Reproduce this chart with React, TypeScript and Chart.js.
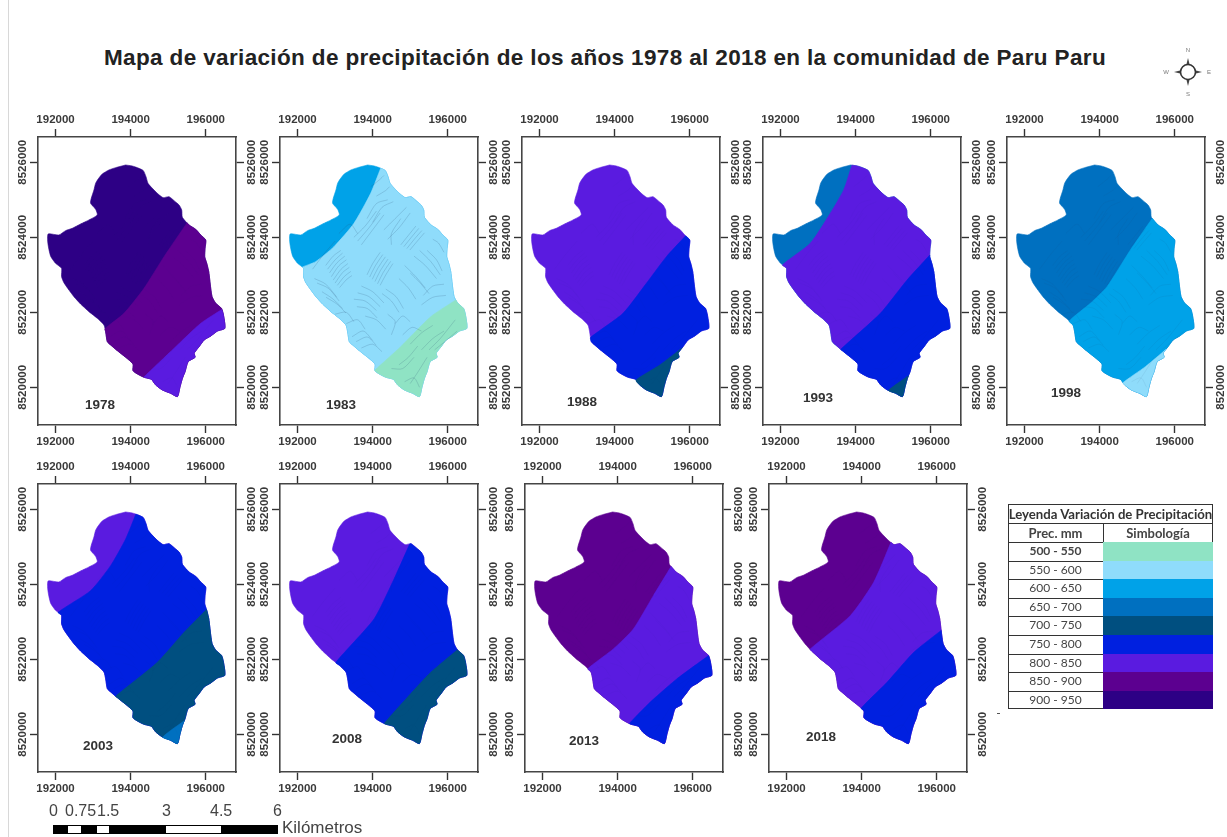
import React, { useEffect, useRef } from "react";
import { Chart, registerables } from "chart.js";

Chart.register(...registerables);

const TITLE = "Mapa de variación de precipitación de los años 1978 al 2018 en la comunidad de Paru Paru";

const eastingTicks = [192000, 194000, 196000];
const northingTicks = [8520000, 8522000, 8524000, 8526000];

const legendRanges = ["500 - 550", "550 - 600", "600 - 650", "650 - 700", "700 - 750", "750 - 800", "800 - 850", "850 - 900", "900 - 950"];
const legendColors = ["#8fe3c4", "#8fdcfb", "#00a2e8", "#0070c0", "#004f80", "#0020e0", "#5a1be0", "#5c0090", "#2d0085"];

const outlineX = [193867, 194044, 194222, 194338, 194409, 194462, 194578, 194711, 194862, 195022, 195156, 195289, 195360, 195378, 195556, 195733, 195867, 196000, 195982, 195973, 196027, 196080, 196107, 196133, 196169, 196267, 196418, 196471, 196507, 196311, 196133, 195956, 195822, 195689, 195716, 195529, 195449, 195378, 195316, 195244, 195067, 194844, 194667, 194551, 194356, 194178, 194062, 194062, 193867, 193644, 193467, 193378, 193333, 193289, 193111, 192889, 192667, 192489, 192356, 192222, 192160, 192160, 192000, 191867, 191796, 191804, 192089, 192267, 192444, 192667, 192889, 193111, 193067, 192933, 192951, 193022, 193067, 193129, 193244, 193422, 193600];
const outlineY = [8525929, 8525902, 8525840, 8525778, 8525618, 8525440, 8525307, 8525173, 8525058, 8525084, 8524978, 8524862, 8524729, 8524533, 8524329, 8524213, 8524062, 8523929, 8523707, 8523484, 8523307, 8523084, 8522862, 8522640, 8522418, 8522240, 8522107, 8521929, 8521573, 8521502, 8521369, 8521262, 8521084, 8520907, 8520800, 8520684, 8520418, 8520240, 8520018, 8519751, 8519840, 8519929, 8520062, 8520213, 8520267, 8520356, 8520444, 8520622, 8520800, 8520978, 8521129, 8521218, 8521484, 8521662, 8521840, 8522018, 8522222, 8522418, 8522596, 8522791, 8522951, 8523173, 8523307, 8523502, 8523840, 8524089, 8524062, 8524178, 8524240, 8524356, 8524462, 8524596, 8524747, 8524907, 8525040, 8525262, 8525440, 8525547, 8525689, 8525796, 8525858];

const years = [1978, 1983, 1988, 1993, 1998, 2003, 2008, 2013, 2018];

const bands1978 = ["900 - 950", "850 - 900", "800 - 850"];
const splits1978 = [
  { x: [195404, 194889, 194356, 193822, 193360], y: [8524302, 8523484, 8522640, 8521973, 8521573] },
  { x: [196444, 195867, 195156, 194356], y: [8522080, 8521707, 8521040, 8520284] },
];
const bands1983 = ["600 - 650", "550 - 600", "500 - 550"];
const splits1983 = [
  { x: [194213, 193947, 193502, 192969, 192480, 192151], y: [8525840, 8525173, 8524373, 8523751, 8523351, 8523236] },
  { x: [196213, 195547, 194747, 194053], y: [8522329, 8521884, 8521084, 8520462] },
];
const bands1988 = ["800 - 850", "750 - 800", "700 - 750"];
const splits1988 = [
  { x: [195867, 195378, 194844, 194222, 193378], y: [8524018, 8523484, 8522773, 8521973, 8521333] },
  { x: [195822, 195200, 194596], y: [8521040, 8520595, 8520213] },
];
const bands1993 = ["650 - 700", "800 - 850", "750 - 800", "700 - 750"];
const splits1993 = [
  { x: [193900, 193680, 193324, 192791, 192124], y: [8525925, 8525262, 8524640, 8523840, 8523351] },
  { x: [195947, 195369, 194658, 193680], y: [8523529, 8522862, 8521973, 8521102] },
  { x: [195351, 194880], y: [8520329, 8519929] },
];
const bands1998 = ["650 - 700", "600 - 650", "550 - 600"];
const splits1998 = [
  { x: [195351, 194818, 194196, 193751, 193200], y: [8524462, 8523662, 8522684, 8522240, 8521778] },
  { x: [195796, 195218, 194622], y: [8520996, 8520551, 8520124] },
];
const bands2003 = ["800 - 850", "750 - 800", "700 - 750", "650 - 700"];
const splits2003 = [
  { x: [194133, 193867, 193467, 192933, 192178], y: [8525858, 8525209, 8524498, 8523831, 8523387] },
  { x: [196062, 195422, 194711, 193689], y: [8523342, 8522720, 8521920, 8521120] },
  { x: [195422, 194889], y: [8520364, 8520009] },
];
const bands2008 = ["800 - 850", "750 - 800", "700 - 750"];
const splits2008 = [
  { x: [194996, 194569, 194036, 193058], y: [8525031, 8524142, 8523075, 8521964] },
  { x: [196213, 195547, 194925, 194347], y: [8522231, 8521653, 8520987, 8520364] },
];
const bands2013 = ["850 - 900", "800 - 850", "750 - 800"];
const splits2013 = [
  { x: [195396, 194951, 194418, 193884, 193244], y: [8524453, 8523698, 8522809, 8522276, 8521787] },
  { x: [196418, 195573, 194862, 194329], y: [8522098, 8521475, 8520853, 8520320] },
];
const bands2018 = ["850 - 900", "800 - 850", "750 - 800"];
const splits2018 = [
  { x: [194747, 194320, 193698, 192631], y: [8525076, 8524053, 8523164, 8522276] },
  { x: [196053, 195387, 194676, 194009], y: [8522764, 8522187, 8521387, 8520720] },
];

// contour strokes as x,y,x,y,... read roughly from the 1983 map
const contourLines = [
  [192750, 8523250, 192950, 8523500, 193150, 8523650],
  [192800, 8523150, 193000, 8523400, 193200, 8523580],
  [192850, 8523050, 193050, 8523320, 193260, 8523500],
  [192900, 8522950, 193100, 8523240, 193300, 8523400],
  [192950, 8522860, 193160, 8523150, 193340, 8523300],
  [193000, 8522780, 193200, 8523060, 193380, 8523200],
  [193060, 8522720, 193250, 8522960, 193420, 8523090],
  [193120, 8522660, 193300, 8522870, 193450, 8522980],
  [193850, 8523000, 194000, 8523300, 194200, 8523600],
  [193920, 8522940, 194070, 8523240, 194270, 8523540],
  [193990, 8522880, 194140, 8523180, 194340, 8523480],
  [194060, 8522820, 194210, 8523120, 194410, 8523420],
  [194130, 8522760, 194280, 8523060, 194480, 8523360],
  [194200, 8522720, 194350, 8523000, 194540, 8523300],
  [194750, 8523800, 194950, 8524050, 195150, 8524300],
  [194830, 8523750, 195030, 8524000, 195230, 8524240],
  [194910, 8523700, 195110, 8523950, 195310, 8524180],
  [194990, 8523660, 195190, 8523900, 195380, 8524120],
  [192450, 8522900, 192750, 8522750, 193050, 8522400],
  [192520, 8522780, 192820, 8522640, 193110, 8522300],
  [192650, 8522550, 192950, 8522350, 193200, 8522100],
  [192760, 8522400, 193050, 8522220, 193290, 8521980],
  [193000, 8521950, 193300, 8522000, 193500, 8521750],
  [193300, 8521700, 193600, 8521800, 193800, 8521550],
  [193450, 8521350, 193750, 8521500, 194000, 8521250],
  [193560, 8521220, 193860, 8521340, 194100, 8521120],
  [193700, 8521050, 194000, 8521150, 194250, 8520950],
  [193500, 8522350, 193800, 8522300, 194100, 8522050],
  [193600, 8522520, 193900, 8522420, 194200, 8522150],
  [193700, 8522700, 194000, 8522550, 194300, 8522250],
  [193580, 8522150, 193860, 8522100, 194120, 8521850],
  [193800, 8521900, 194100, 8521800, 194350, 8521550],
  [194250, 8522500, 194500, 8522300, 194700, 8522000],
  [194350, 8522620, 194620, 8522420, 194820, 8522100],
  [194400, 8521950, 194600, 8521750, 194500, 8521400],
  [194600, 8521700, 194800, 8521900, 195000, 8521750],
  [194800, 8521400, 195050, 8521600, 195300, 8521500],
  [194700, 8522900, 194950, 8522650, 195150, 8522350],
  [194850, 8523250, 195150, 8522950, 195400, 8522650],
  [195000, 8523050, 195250, 8522800, 195500, 8522500],
  [195100, 8523500, 195400, 8523250, 195700, 8522900],
  [195250, 8523650, 195550, 8523350, 195800, 8523000],
  [195450, 8523650, 195700, 8523400, 195850, 8523100],
  [195350, 8522450, 195600, 8522700, 195900, 8522750],
  [195300, 8522200, 195600, 8522400, 195950, 8522450],
  [193500, 8524000, 193800, 8524300, 194100, 8524700],
  [193600, 8523900, 193900, 8524250, 194200, 8524650],
  [193700, 8523800, 194000, 8524200, 194300, 8524600],
  [193850, 8524500, 194100, 8524900, 194400, 8525000],
  [194000, 8524400, 194250, 8524800, 194550, 8524950],
  [194300, 8524200, 194600, 8524500, 194900, 8524800],
  [194400, 8523950, 194700, 8524250, 195000, 8524650],
  [194500, 8523800, 194500, 8524100, 194750, 8524500],
  [193950, 8525350, 194200, 8525550, 194300, 8525650],
  [194100, 8525100, 194350, 8525250, 194450, 8525350],
  [192400, 8523150, 192700, 8523550, 193000, 8523900],
  [193100, 8524100, 193400, 8524350, 193600, 8524100],
  [195600, 8523950, 195750, 8523850, 195900, 8523600],
  [194700, 8520600, 194950, 8520800, 195200, 8521100],
  [194500, 8520500, 194800, 8520500, 195100, 8520800],
  [195000, 8520100, 195200, 8520400, 195450, 8520800],
  [195300, 8521000, 195600, 8521300, 195900, 8521500],
  [195500, 8521000, 195800, 8521300, 196200, 8521800],
  [195650, 8521000, 195900, 8521200, 196250, 8521500],
  [195000, 8521150, 195300, 8521450, 195600, 8521650],
  [194850, 8520150, 195100, 8520250, 195250, 8520000],
];
const contourAlpha = [0.05, 0.3, 0.06, 0.06, 0.13, 0.06, 0.06, 0.06, 0.06];

const X_MIN = 191533;
const X_MAX = 196805;
const Y_MIN = 8518995;
const Y_MAX = 8526675;

const yearBands = [bands1978, bands1983, bands1988, bands1993, bands1998, bands2003, bands2008, bands2013, bands2018];
const yearSplits = [splits1978, splits1983, splits1988, splits1993, splits1998, splits2003, splits2008, splits2013, splits2018];

// layout (page pixels)
const GAP = 40;
const FRAME_W = 198;
const FRAME_H = 288;
const panelLeft = [38, 280, 522, 763, 1007, 38, 280, 525, 769];
const panelTop = [137, 137, 137, 137, 137, 484, 484, 484, 484];
const yearCx = [100, 341, 582, 818, 1066, 98, 347, 584, 821];
const yearCy = [405, 405, 402, 398, 393, 746, 739, 741, 737];

type Pt = { x: number; y: number };

function nearestOnOutline(p: Pt) {
  let best = { seg: 0, pt: p, d: Infinity };
  const n = outlineX.length;
  for (let i = 0; i < n; i++) {
    const j = (i + 1) % n;
    const ax = outlineX[i], ay = outlineY[i], bx = outlineX[j], by = outlineY[j];
    const dx = bx - ax, dy = by - ay;
    let t = ((p.x - ax) * dx + (p.y - ay) * dy) / (dx * dx + dy * dy);
    t = Math.max(0, Math.min(1, t));
    const q = { x: ax + t * dx, y: ay + t * dy };
    const d = (q.x - p.x) ** 2 + (q.y - p.y) ** 2;
    if (d < best.d) best = { seg: i, pt: q, d };
  }
  return best;
}

function zonePolygon(split: { x: number[]; y: number[] }): Pt[] {
  const last = split.x.length - 1;
  const s = nearestOnOutline({ x: split.x[0], y: split.y[0] });
  const e = nearestOnOutline({ x: split.x[last], y: split.y[last] });
  const pts: Pt[] = [s.pt];
  for (let i = s.seg + 1; i <= e.seg; i++) pts.push({ x: outlineX[i], y: outlineY[i] });
  pts.push(e.pt);
  for (let i = last - 1; i >= 1; i--) pts.push({ x: split.x[i], y: split.y[i] });
  pts.push(s.pt);
  return pts;
}

const rangeColor = (r: string) => legendColors[legendRanges.indexOf(r)];

const FONT = "'Liberation Sans', Arial, sans-serif";
const TICK_COLOR = "#3a3a3a";

const rotatedYLabels = {
  id: "rotatedYLabels",
  afterDraw(chart: any) {
    const { ctx } = chart;
    ctx.save();
    ctx.font = `bold 11.5px ${FONT}`;
    ctx.fillStyle = TICK_COLOR;
    ctx.textAlign = "center";
    ctx.textBaseline = "middle";
    for (const id of ["y", "y2"]) {
      const scale = chart.scales[id];
      const cx = id === "y" ? scale.right - 15.5 : scale.left + 15.5;
      for (const v of northingTicks) {
        ctx.save();
        ctx.translate(cx, scale.getPixelForValue(v));
        ctx.rotate(-Math.PI / 2);
        ctx.fillText(String(v), 0, 0);
        ctx.restore();
      }
    }
    ctx.restore();
  },
};

function axis(position: string, horizontal: boolean) {
  return {
    type: "linear",
    position,
    min: horizontal ? X_MIN : Y_MIN,
    max: horizontal ? X_MAX : Y_MAX,
    afterBuildTicks: (a: any) => {
      a.ticks = (horizontal ? eastingTicks : northingTicks).map((value) => ({ value }));
    },
    afterFit: (a: any) => {
      if (horizontal) a.height = GAP;
      else a.width = GAP;
    },
    border: { display: true, color: "#454545", width: 1.6 },
    grid: { drawOnChartArea: false, drawTicks: true, tickLength: 8, tickColor: "#333", tickWidth: 1.4 },
    ticks: horizontal
      ? {
          display: true,
          color: TICK_COLOR,
          font: { family: FONT, size: 11.5, weight: "bold" },
          padding: 2,
          maxRotation: 0,
          minRotation: 0,
          callback: (v: number) => String(v),
        }
      : { display: false },
    title: { display: false },
  };
}

function MapPanel({ index }: { index: number }) {
  const ref = useRef<HTMLCanvasElement>(null);
  useEffect(() => {
    const bands = yearBands[index];
    const splits = yearSplits[index];
    const outline: Pt[] = outlineX.map((x, i) => ({ x, y: outlineY[i] }));
    outline.push(outline[0]);
    const shape = (data: Pt[], color: string) => ({
      data,
      showLine: true,
      fill: "shape",
      backgroundColor: color,
      borderColor: color,
      borderWidth: 0.6,
      pointRadius: 0,
      tension: 0.2,
    });
    const zones = [shape(outline, rangeColor(bands[0]))];
    splits.forEach((s, i) => zones.push(shape(zonePolygon(s), rangeColor(bands[i + 1]))));
    const lines = contourLines.map((c) => {
      const data: Pt[] = [];
      for (let i = 0; i < c.length; i += 2) data.push({ x: c[i], y: c[i + 1] });
      return {
        data,
        showLine: true,
        fill: false,
        borderColor: `rgba(40,70,110,${contourAlpha[index]})`,
        borderWidth: 0.6,
        pointRadius: 0,
        tension: 0.3,
      };
    });
    const chart = new Chart(ref.current as HTMLCanvasElement, {
      type: "scatter",
      data: { datasets: [...lines, ...zones.reverse()] as any },
      options: {
        animation: false,
        responsive: false,
        layout: { padding: 0 },
        plugins: { legend: { display: false }, tooltip: { enabled: false }, title: { display: false } },
        scales: {
          x: axis("bottom", true),
          x2: axis("top", true),
          y: axis("left", false),
          y2: axis("right", false),
        } as any,
      },
      plugins: [rotatedYLabels],
    });
    return () => chart.destroy();
  }, [index]);
  return (
    <canvas
      ref={ref}
      width={FRAME_W + 2 * GAP}
      height={FRAME_H + 2 * GAP}
      style={{ position: "absolute", left: panelLeft[index] - GAP, top: panelTop[index] - GAP }}
    />
  );
}

const abs = (s: React.CSSProperties): React.CSSProperties => ({ position: "absolute", whiteSpace: "nowrap", ...s });

function Legend() {
  const L = 1008, R = 1213, M = 1103, T = 504;
  const rowH = 18.6;
  const cellFont = "Lato, 'Open Sans', sans-serif";
  const line = "1px solid #333";
  const top0 = T + 38;
  return (
    <div>
      <div style={abs({ left: L, top: T, width: R - L, height: top0 + rowH * 9 - T, border: line, boxSizing: "border-box" })} />
      <div style={abs({ left: L, top: T + 1, width: R - L, textAlign: "center", font: `bold 13.2px ${cellFont}`, color: "#333", lineHeight: "18px" })}>
        Leyenda Variación de Precipitación
      </div>
      <div style={abs({ left: L, top: T + 19, width: R - L, borderTop: line })} />
      <div style={abs({ left: L, top: T + 20, width: M - L, textAlign: "center", font: `bold 13px ${cellFont}`, color: "#444", lineHeight: "18px" })}>Prec. mm</div>
      <div style={abs({ left: M, top: T + 20, width: R - M, textAlign: "center", font: `bold 13px ${cellFont}`, color: "#444", lineHeight: "18px" })}>Simbología</div>
      <div style={abs({ left: M, top: T + 19, height: 19, borderLeft: line })} />
      {legendRanges.map((r, i) => (
        <React.Fragment key={r}>
          <div style={abs({ left: L, top: top0 + i * rowH, width: R - L, borderTop: line })} />
          <div style={abs({ left: L, top: top0 + i * rowH, width: M - L, textAlign: "center", font: `${i === 0 ? "bold " : ""}12px ${cellFont}`, color: "#444", lineHeight: `${rowH}px` })}>{r}</div>
          <div style={abs({ left: M, top: top0 + i * rowH, width: R - M, height: rowH, background: legendColors[i] })} />
        </React.Fragment>
      ))}
      <div style={abs({ left: 997, top: 713, width: 3, height: 1, background: "#555" })} />
    </div>
  );
}

const scaleLabels = ["0", "0.75", "1.5", "3", "4.5", "6"];
const scaleLabelLeft = [49, 65, 97, 162, 210, 273];
const scaleBarEdges = [53, 68, 81, 97, 109, 166, 221, 278];

function ScaleBar() {
  return (
    <div>
      {scaleLabels.map((s, i) => (
        <div key={s} style={abs({ left: scaleLabelLeft[i], top: 802, font: `16px ${FONT}`, color: "#444", lineHeight: "18px" })}>{s}</div>
      ))}
      {scaleBarEdges.slice(0, -1).map((e, i) => (
        <div key={e} style={abs({ left: e, top: 825, width: scaleBarEdges[i + 1] - e, height: 9, boxSizing: "border-box", background: i % 2 ? "#fff" : "#000", borderTop: "1px solid #000", borderBottom: "1px solid #000" })} />
      ))}
      <div style={abs({ left: 282, top: 818, font: `17px ${FONT}`, color: "#444", lineHeight: "20px" })}>Kilómetros</div>
    </div>
  );
}

function Compass() {
  return (
    <svg width={60} height={60} viewBox="-30 -30 60 60" style={{ position: "absolute", left: 1158, top: 42, filter: "blur(0.5px)" }}>
      <path d="M0 -14 L2 -6 L6 -2 L14 0 L6 2 L2 6 L0 14 L-2 6 L-6 2 L-14 0 L-6 -2 L-2 -6 Z" fill="#444" />
      <circle cx={0} cy={0} r={7.5} fill="#fff" stroke="#333" strokeWidth={1.6} />
      <g fill="#777" fontSize={6} fontFamily="Liberation Sans" textAnchor="middle">
        <text x={0} y={-20}>N</text>
        <text x={0} y={24}>S</text>
        <text x={21} y={2}>E</text>
        <text x={-22} y={2}>W</text>
      </g>
    </svg>
  );
}

export default function App() {
  return (
    <div style={{ position: "fixed", left: 0, top: 0, width: 1227, height: 837, overflow: "hidden", background: "#fff", filter: "blur(0.45px)" }}>
      <div style={abs({ left: 8, top: 0, width: 1, height: 837, background: "#d8d8d8" })} />
      <div style={abs({ left: 104, top: 46, font: `bold 22.5px ${FONT}`, letterSpacing: "0.36px", color: "#222", lineHeight: "24px" })}>{TITLE}</div>
      {years.map((_, i) => (
        <MapPanel key={i} index={i} />
      ))}
      {years.map((y, i) => (
        <div key={y} style={abs({ left: yearCx[i] - 30, width: 60, top: yearCy[i] - 9, textAlign: "center", font: `bold 13.5px ${FONT}`, color: "#333", lineHeight: "18px" })}>{y}</div>
      ))}
      <Legend />
      <ScaleBar />
      <Compass />
    </div>
  );
}
